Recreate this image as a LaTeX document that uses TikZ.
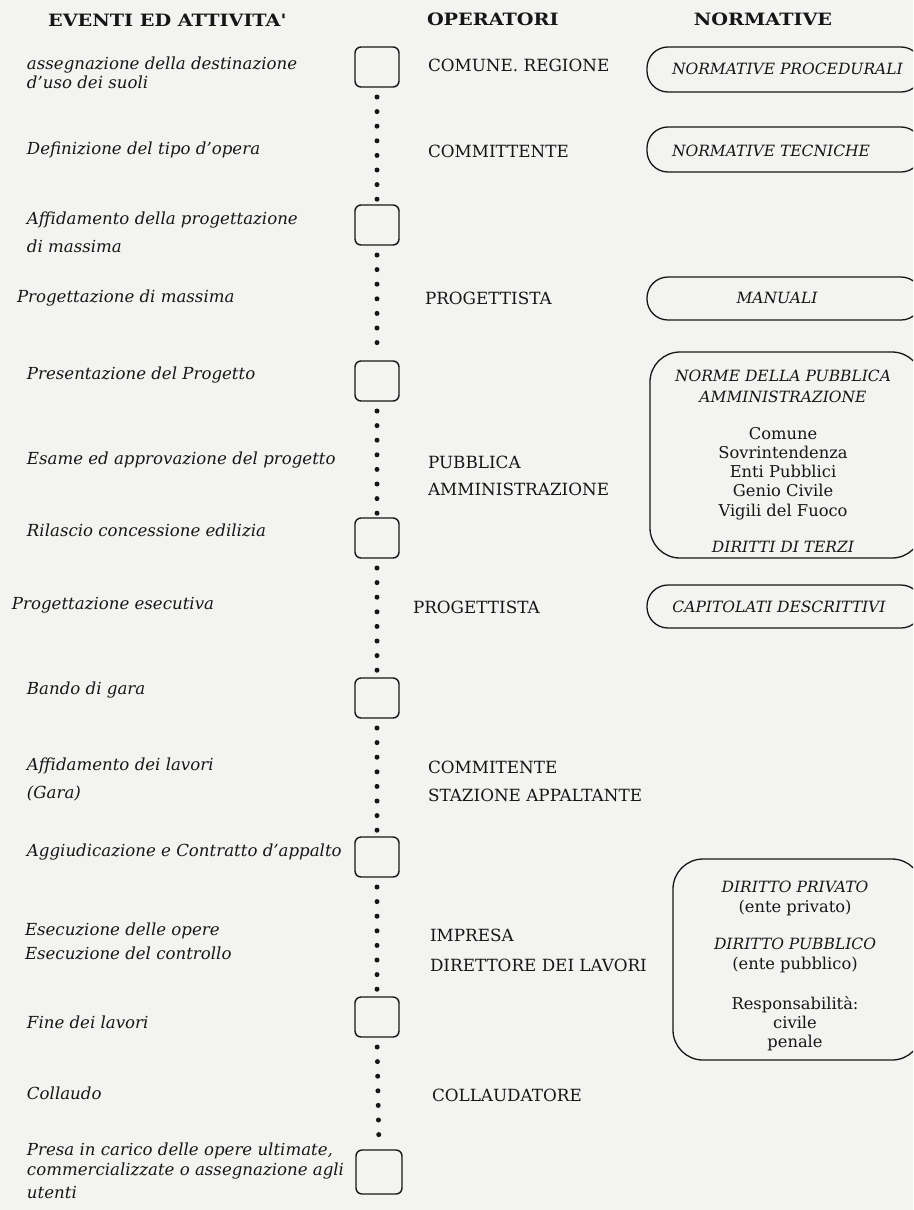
\documentclass[tikz,border=0pt]{standalone}
\usepackage{fontspec}
\setmainfont{DejaVu Serif}
\newfontfamily\headfont{DejaVu Serif}[FakeStretch=1.13]
\definecolor{paper}{RGB}{243,244,241}
\definecolor{ink}{RGB}{22,22,22}
\tikzset{
  every node/.style={inner sep=0pt, outer sep=0pt, text=ink},
  head/.style={font=\headfont\fontsize{17}{19}\selectfont\bfseries},
  event/.style={anchor=west, align=left, font=\fontsize{16.6}{19}\selectfont\itshape},
  oper/.style={anchor=west, align=left, font=\fontsize{16.8}{19}\selectfont},
  normit/.style={align=center, font=\fontsize{15.5}{21}\selectfont\itshape},
  normup/.style={align=center, font=\fontsize{16.3}{19.25}\selectfont},
  stepbox/.style={draw=ink, line width=1.4pt, rounded corners=6pt,
                  minimum width=44pt, minimum height=40pt},
  dotline/.style={draw=ink, line width=5pt, line cap=round,
                  dash pattern=on 0pt off 14.6pt,
                  shorten <=10pt, shorten >=4pt},
  normbox/.style={draw=ink, line width=1.3pt, rounded corners=21pt},
  bigbox/.style={draw=ink, line width=1.3pt, rounded corners=30pt},
}
\begin{document}
\begin{tikzpicture}[x=1pt,y=-1pt]
\useasboundingbox (0,0) rectangle (913,1210);
\fill[paper] (0,0) rectangle (913,1210);
\clip (0,0) rectangle (913,1210);

% column headings
\node[head] (h1) at (167,20) {EVENTI ED ATTIVITA\textquotesingle};
\node[head, anchor=west] (h2) at (427,19) {OPERATORI};
\node[head] (h3) at (763,19) {NORMATIVE};

% milestone boxes on the time line
\node[stepbox] (s1) at (377,67) {};
\node[stepbox] (s2) at (377,225) {};
\node[stepbox] (s3) at (377,381) {};
\node[stepbox] (s4) at (377,538) {};
\node[stepbox] (s5) at (377,698) {};
\node[stepbox] (s6) at (377,857) {};
\node[stepbox] (s7) at (377,1017) {};
\node[stepbox, minimum width=46pt, minimum height=44pt] (s8) at (379,1172) {};

% dotted time line between the boxes
\foreach \a/\b in {s1/s2,s2/s3,s3/s4,s4/s5,s5/s6,s6/s7,s7/s8}
  \draw[dotline] (\a.south) -- (\b.north);

% events and activities
\node[event] (e1) at (27,72.5) {assegnazione della destinazione\\d'uso dei suoli};
\node[event] (e2) at (27,150) {Definizione del tipo d'opera};
\node[event] (e3) at (27,232) {Affidamento della progettazione\\[9pt]di massima};
\node[event] (e4) at (17,298) {Progettazione di massima};
\node[event] (e5) at (27,375) {Presentazione del Progetto};
\node[event] (e6) at (27,460) {Esame ed approvazione del progetto};
\node[event] (e7) at (27,530) {Rilascio concessione edilizia};
\node[event] (e8) at (12,605) {Progettazione esecutiva};
\node[event] (e9) at (27,690) {Bando di gara};
\node[event] (e10) at (27,779) {Affidamento dei lavori\\[9pt](Gara)};
\node[event] (e11) at (27,852) {Aggiudicazione e Contratto d'appalto};
\node[event] (e12) at (25,941) {Esecuzione delle opere\\[5pt]Esecuzione del controllo};
\node[event] (e13) at (27,1022) {Fine dei lavori};
\node[event] (e14) at (27,1093) {Collaudo};
\node[event, font=\fontsize{16.6}{20}\selectfont\itshape] (e15) at (27,1171)
  {Presa in carico delle opere ultimate,\\commercializzate o assegnazione agli\\[3pt]utenti};

% operators
\node[oper] (o1) at (428,65) {COMUNE. REGIONE};
\node[oper] (o2) at (428,151) {COMMITTENTE};
\node[oper] (o3) at (425,298) {PROGETTISTA};
\node[oper] (o4) at (428,475.5) {PUBBLICA\\[8pt]AMMINISTRAZIONE};
\node[oper] (o5) at (413,607) {PROGETTISTA};
\node[oper] (o6) at (428,781) {COMMITENTE\\[9pt]STAZIONE APPALTANTE};
\node[oper] (o7) at (430,950) {IMPRESA\\[11pt]DIRETTORE DEI LAVORI};
\node[oper] (o8) at (432,1095) {COLLAUDATORE};

% regulations
\draw[normbox] (647,47) rectangle (922,92);
\node[normit, anchor=west] (n1) at (672,69) {NORMATIVE PROCEDURALI};

\draw[normbox] (647,127) rectangle (922,172);
\node[normit, anchor=west] (n2) at (672,151) {NORMATIVE TECNICHE};

\draw[normbox] (647,277) rectangle (922,320);
\node[normit] (n3) at (777,298) {MANUALI};

\draw[bigbox] (650,352) rectangle (922,558);
\node[normit] (n4a) at (783,386.5) {NORME DELLA PUBBLICA\\AMMINISTRAZIONE};
\node[normup] (n4b) at (783,473.5) {Comune\\Sovrintendenza\\Enti Pubblici\\Genio Civile\\Vigili del Fuoco};
\node[normit] (n4c) at (783,547) {DIRITTI DI TERZI};

\draw[normbox] (647,585) rectangle (922,628);
\node[normit] (n5) at (779,607) {CAPITOLATI DESCRITTIVI};

\draw[bigbox] (673,859) rectangle (922,1060);
\node[normit] (n6a) at (795,887) {DIRITTO PRIVATO};
\node[normup] (n6b) at (795,908) {(ente privato)};
\node[normit] (n6c) at (795,944) {DIRITTO PUBBLICO};
\node[normup] (n6d) at (795,965) {(ente pubblico)};
\node[normup] (n6e) at (795,1023.5) {Responsabilità:\\civile\\penale};
\end{tikzpicture}
\end{document}
